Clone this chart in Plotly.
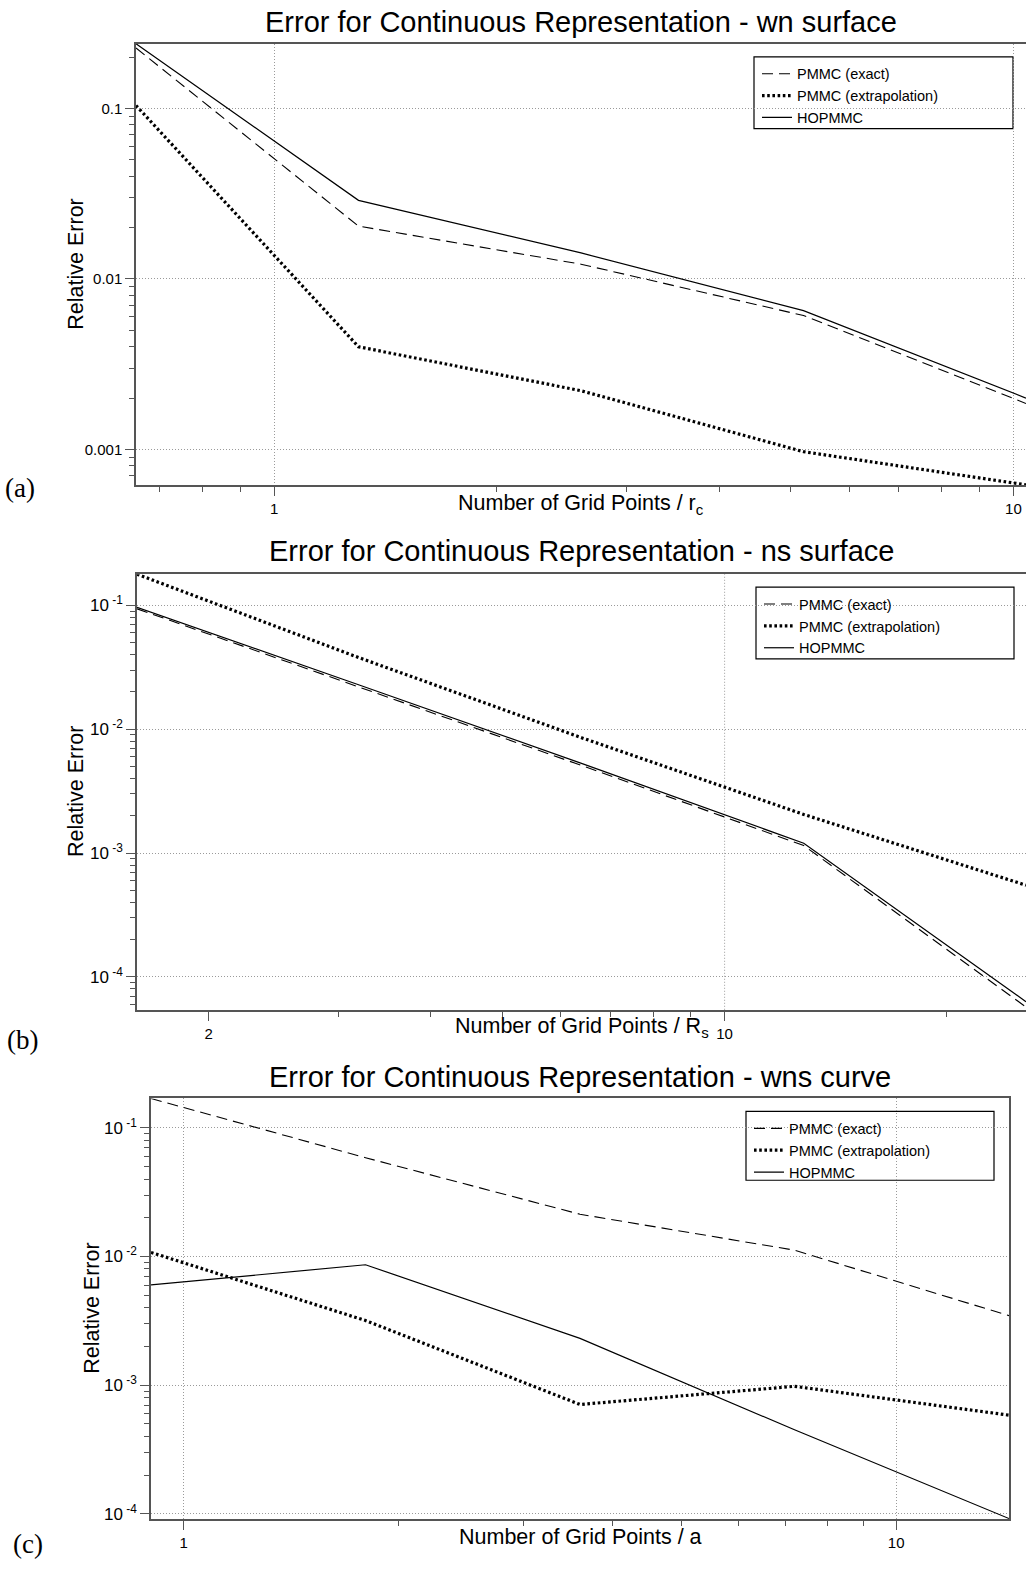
import numpy as np
import plotly.graph_objects as go

# ---------------- data ----------------
# (a) wn surface
x_wn = [0.65, 1.3, 2.6, 5.2, 10.4]
wn_exact = [0.226, 0.0204, 0.0122, 0.0061, 0.00186]
wn_extrap = [0.104, 0.0040, 0.00221, 0.00097, 0.00062]
wn_hop = [0.239, 0.0289, 0.0142, 0.00652, 0.0020]

# (b) ns surface
x_ns = [1.6, 3.2, 6.4, 12.8, 25.6]
ns_exact = [0.094, 0.0220, 0.0051, 0.00115, 5.7e-5]
ns_extrap = [0.179, 0.0378, 0.00855, 0.00205, 5.5e-4]
ns_hop = [0.0964, 0.0228, 0.0053, 0.0012, 6.3e-5]

# (c) wns curve
x_wns = [0.9, 1.8, 3.6, 7.2, 14.4]
wns_exact = [0.169, 0.0586, 0.0213, 0.0112, 0.00347]
wns_extrap = [0.01076, 0.00318, 0.000708, 0.00098, 0.000585]
wns_hop = [0.00601, 0.00863, 0.00231, 0.00045, 9.2e-5]

series_names = ["PMMC (exact)", "PMMC (extrapolation)", "HOPMMC"]
titles = [
    "Error for Continuous Representation - wn surface",
    "Error for Continuous Representation - ns surface",
    "Error for Continuous Representation - wns curve",
]
x_titles = [
    "Number of Grid Points / r<sub>c</sub>",
    "Number of Grid Points / R<sub>s</sub>",
    "Number of Grid Points / a",
]
panel_tags = ["(a)", "(b)", "(c)"]

y_ranges = [[6.15e-4, 0.239], [5.42e-5, 0.179], [9.1e-5, 0.169]]
x_major = [[1, 10], [2, 10], [1, 10]]
x_minor = [[0.7, 0.8, 0.9, 2, 3, 4, 5, 6, 7, 8, 9],
           [3, 4, 5, 6, 7, 8, 9, 20],
           [2, 3, 4, 5, 6, 7, 8, 9]]
y_major = [[0.001, 0.01, 0.1], [1e-4, 1e-3, 1e-2, 1e-1], [1e-4, 1e-3, 1e-2, 1e-1]]
y_major_text = [["0.001", "0.01", "0.1"],
                ["10<sup> -4</sup>", "10<sup> -3</sup>", "10<sup> -2</sup>", "10<sup> -1</sup>"],
                ["10<sup> -4</sup>", "10<sup> -3</sup>", "10<sup> -2</sup>", "10<sup> -1</sup>"]]

# ---------------- page geometry (pixels) ----------------
W, H = 1026, 1570
# plot boxes: left, top, right, bottom
boxes = [(136, 44, 1026, 487), (137, 576, 1026, 1013), (151, 1102, 1009, 1524)]
legend_boxes = [(754, 57, 1013, 129), (756, 589, 1014, 661), (746, 1115, 994, 1184)]
title_y = [22, 553, 1080]
xtitle_y = [506, 1031, 1542]
ytitle_x = [76, 76, 92]
tag_pos = [(20, 490), (22, 1043), (28, 1549)]


def px(x):
    return x / W


def py(y):
    return 1 - y / H


FONT = "Liberation Sans, Arial, Helvetica, sans-serif"
AXIS_COL = "#555555"
GRID_COL = "#9a9a9a"

styles = [
    dict(color="black", width=1.1, dash="11px,6px"),
    dict(color="black", width=3.2, dash="2.6px,2.6px"),
    dict(color="black", width=1.2, dash="solid"),
]

panels = [
    (x_wn, [wn_exact, wn_extrap, wn_hop]),
    (x_ns, [ns_exact, ns_extrap, ns_hop]),
    (x_wns, [wns_exact, wns_extrap, wns_hop]),
]

fig = go.Figure()
layout = dict(
    width=W, height=H,
    margin=dict(l=0, r=0, t=0, b=0),
    paper_bgcolor="white", plot_bgcolor="white",
    font=dict(family=FONT, color="black"),
    annotations=[], shapes=[],
)

for i, (xs, ys_list) in enumerate(panels):
    n = "" if i == 0 else str(i + 1)
    leg = "legend" + n
    for name, ys, st in zip(series_names, ys_list, styles):
        fig.add_trace(go.Scatter(
            x=xs, y=ys, mode="lines", name=name, line=st,
            xaxis="x" + n, yaxis="y" + n, legend=leg, showlegend=True,
        ))

    L, T, R, B = boxes[i]
    grid_on_x = i != 1  # the ns panel only has a grid line at the decade
    layout["xaxis" + n] = dict(
        type="log", domain=[px(L), px(R)], anchor="y" + n,
        range=[np.log10(xs[0]), np.log10(xs[-1])],
        tickmode="array", tickvals=x_major[i], ticktext=[str(v) for v in x_major[i]],
        ticks="outside", ticklen=9, tickwidth=1, tickcolor=AXIS_COL,
        tickfont=dict(size=15, family=FONT),
        showline=True, linecolor=AXIS_COL, linewidth=1.5, mirror=True,
        showgrid=grid_on_x, gridcolor=GRID_COL, gridwidth=1, griddash="1px,2px",
        zeroline=False,
        minor=dict(tickmode="array", tickvals=x_minor[i], ticks="outside",
                   ticklen=5, tickwidth=1, tickcolor=AXIS_COL, showgrid=False),
    )
    yr = y_ranges[i]
    ymin_dec = int(np.floor(np.log10(yr[0])))
    ymax_dec = int(np.ceil(np.log10(yr[1])))
    y_minor = [m * 10.0 ** d for d in range(ymin_dec, ymax_dec) for m in range(2, 10)]
    layout["yaxis" + n] = dict(
        type="log", domain=[py(B), py(T)], anchor="x" + n,
        range=[np.log10(yr[0]), np.log10(yr[1])],
        tickmode="array", tickvals=y_major[i], ticktext=y_major_text[i],
        ticks="outside", ticklen=9, tickwidth=1, tickcolor=AXIS_COL,
        tickfont=dict(size=15 if i == 0 else 17, family=FONT),
        showline=True, linecolor=AXIS_COL, linewidth=1.5, mirror=(i == 2),
        showgrid=True, gridcolor=GRID_COL, gridwidth=1, griddash="1px,2px",
        zeroline=False,
        minor=dict(tickmode="array", tickvals=y_minor, ticks="outside",
                   ticklen=5, tickwidth=1, tickcolor=AXIS_COL, showgrid=False),
    )

    if i == 1:
        layout["shapes"].append(dict(
            type="line", xref="x2", yref="y2 domain", x0=10, x1=10, y0=0, y1=1,
            line=dict(color=GRID_COL, width=1, dash="1px,2px"), layer="below",
        ))

    # legend frame
    lL, lT, lR, lB = legend_boxes[i]
    layout["shapes"].append(dict(
        type="rect", xref="paper", yref="paper",
        x0=px(lL), x1=px(lR), y0=py(lB), y1=py(lT),
        line=dict(color="black", width=1.2), fillcolor="white", layer="between",
    ))
    layout[leg] = dict(
        x=px(lL + 3), y=py(lT + 1), xanchor="left", yanchor="top",
        bgcolor="rgba(0,0,0,0)", borderwidth=0,
        font=dict(size=14.5, family=FONT, color="black"),
        tracegroupgap=0, itemwidth=30,
    )

    cx = (L + R) / 2
    layout["annotations"] += [
        dict(text=titles[i], x=px(cx), y=py(title_y[i]), xref="paper", yref="paper",
             xanchor="center", yanchor="middle", showarrow=False,
             font=dict(size=29, family=FONT)),
        dict(text=x_titles[i], x=px(cx), y=py(xtitle_y[i]), xref="paper", yref="paper",
             xanchor="center", yanchor="middle", showarrow=False,
             font=dict(size=21.5, family=FONT)),
        dict(text="Relative Error", x=px(ytitle_x[i]), y=py((T + B) / 2),
             xref="paper", yref="paper", xanchor="center", yanchor="middle",
             textangle=-90, showarrow=False, font=dict(size=21.5, family=FONT)),
        dict(text=panel_tags[i], x=px(tag_pos[i][0]), y=py(tag_pos[i][1]),
             xref="paper", yref="paper", xanchor="center", yanchor="middle",
             showarrow=False,
             font=dict(size=27, family="Liberation Serif, DejaVu Serif, serif")),
    ]

fig.update_layout(**layout)
fig.write_html("out.html")
